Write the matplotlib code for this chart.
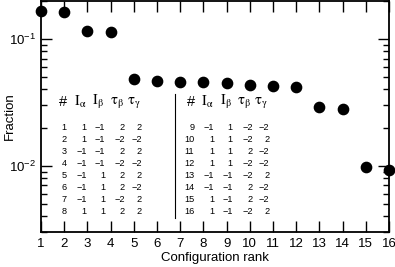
import matplotlib
matplotlib.use("Agg")
import matplotlib.pyplot as plt
from matplotlib.ticker import LogLocator, NullFormatter

plt.rcParams["font.family"] = ["Liberation Sans", "DejaVu Sans"]
plt.rcParams["mathtext.fontset"] = "stix"

rank = list(range(1, 17))
fraction = [0.166, 0.163, 0.116, 0.1136, 0.0483, 0.0466, 0.0458, 0.0456,
            0.0450, 0.0434, 0.0426, 0.0418, 0.0290, 0.0280, 0.0097, 0.0092]

config = list(range(1, 17))
I_alpha = [1, 1, -1, -1, -1, -1, -1, 1, -1, 1, 1, 1, -1, -1, 1, 1]
I_beta = [-1, -1, -1, -1, 1, 1, 1, 1, 1, 1, 1, 1, -1, -1, -1, -1]
tau_beta = [2, -2, 2, -2, 2, 2, -2, 2, -2, -2, 2, -2, -2, 2, 2, -2]
tau_gamma = [2, -2, 2, -2, 2, -2, 2, 2, -2, 2, -2, -2, 2, -2, -2, 2]
headers = ["#", r"$\mathrm{I}_{\mathrm{\alpha}}$", r"$\mathrm{I}_{\mathrm{\beta}}$",
           r"$\mathrm{\tau}_{\mathrm{\beta}}$", r"$\mathrm{\tau}_{\mathrm{\gamma}}$"]

fig = plt.figure(figsize=(3.95, 2.67), dpi=100)
ax = fig.add_axes([0.104, 0.131, 0.881, 0.866])

ax.plot(rank, fraction, "o", color="black", markersize=7.4, clip_on=False, zorder=5)

ax.set_yscale("log")
ax.set_xlim(1, 16)
ax.set_ylim(0.003, 0.2)
ax.set_xticks(rank)
ax.yaxis.set_major_locator(LogLocator(base=10))
ax.yaxis.set_minor_locator(LogLocator(base=10, subs=range(2, 10)))
ax.yaxis.set_minor_formatter(NullFormatter())

ax.tick_params(which="both", direction="in", top=True, right=True, labelsize=9.5, width=1.0)
ax.tick_params(which="major", length=8)
ax.tick_params(which="minor", length=4)
ax.tick_params(axis="x", pad=4)
for s in ax.spines.values():
    s.set_linewidth(1.3)

ax.set_xlabel("Configuration rank", fontsize=9.5, labelpad=2)
ax.set_ylabel("Fraction", fontsize=9.5)
ax.yaxis.set_label_coords(-0.072, 0.5)

# inset table of configurations, positions in pixels of the axes box
def fx(px):
    return (px - 41) / 348.0

def fy(py):
    return (232 - py) / 231.3

head_x = [63.3, 80, 98, 116.7, 133.3]
col_right = [66.7, 86.7, 105, 125, 141.7]
block_shift = 127.5

def fmt(v):
    return str(v).replace("-", "\u2212")

for b in range(2):
    dx = b * block_shift
    for hx, h in zip(head_x, headers):
        ax.text(fx(hx + dx), fy(102), h, transform=ax.transAxes,
                ha="center", va="center", fontsize=10.5)
    for r in range(8):
        i = b * 8 + r
        vals = [config[i], I_alpha[i], I_beta[i], tau_beta[i], tau_gamma[i]]
        for cx, v in zip(col_right, vals):
            ax.text(fx(cx + dx), fy(127.7 + r * 11.9), fmt(v), transform=ax.transAxes,
                    ha="right", va="center", fontsize=6.6)

ax.plot([fx(174.5), fx(174.5)], [fy(94), fy(218)], color="black", lw=0.8,
        transform=ax.transAxes)

fig.savefig("out.png", dpi=100)
